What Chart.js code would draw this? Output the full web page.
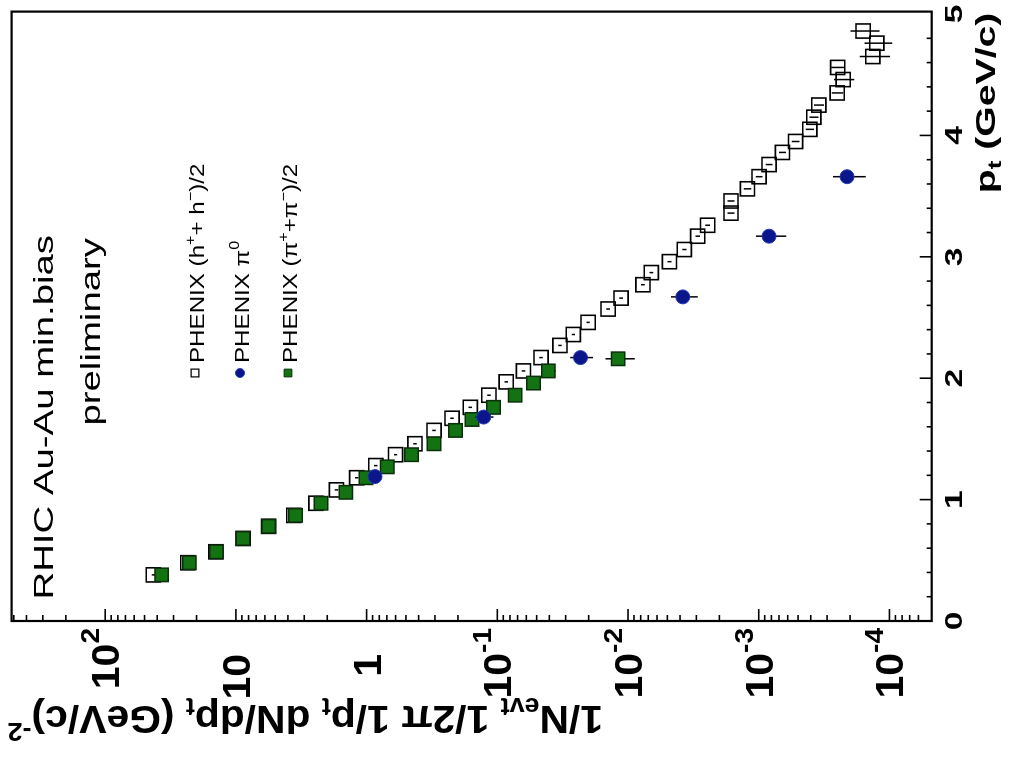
<!DOCTYPE html>
<html>
<head>
<meta charset="utf-8">
<script src="https://cdn.jsdelivr.net/npm/chart.js@4.4.1/dist/chart.umd.min.js"></script>
<style>
  html, body { margin: 0; padding: 0; background: #fff; overflow: hidden; width: 1029px; height: 772px; }
  /* the spectrum is drawn in portrait and turned a quarter turn so pt runs up the right edge */
  #wrap { position: absolute; left: 0; top: 0; width: 772px; height: 1029px;
          transform-origin: 0 0; transform: translate(0, 772px) rotate(-90deg); background: #fff; }
  canvas { display: block; }
</style>
</head>
<body>
<div id="wrap"><canvas id="spectrum" width="772" height="1029"></canvas></div>
<script>
// ---- data ---------------------------------------------------------------
const seriesNames = ['PHENIX (h+ + h-)/2', 'PHENIX pi0', 'PHENIX (pi+ + pi-)/2'];

// charged hadrons (h+ + h-)/2
const hadronPt = [0.38, 0.48, 0.57, 0.68, 0.78, 0.87, 0.97, 1.08, 1.18, 1.28,
                  1.37, 1.46, 1.57, 1.67, 1.76, 1.86, 1.97, 2.06, 2.17, 2.27,
                  2.36, 2.46, 2.57, 2.66, 2.77, 2.87, 2.96, 3.06, 3.17, 3.26,
                  3.36, 3.46, 3.56, 3.66, 3.76, 3.86, 3.95, 4.05, 4.15, 4.25,
                  4.35, 4.46, 4.56, 4.65, 4.76, 4.86];
const hadronYield = [42.8, 23.3, 14.2, 8.82, 5.62, 3.60, 2.44, 1.70, 1.19, 0.851,
                     0.600, 0.427, 0.305, 0.222, 0.161, 0.116, 0.0855, 0.0631, 0.0463, 0.0332,
                     0.0262, 0.0202, 0.0142, 0.0113, 0.00769, 0.00664, 0.00482, 0.00371, 0.00293, 0.00246,
                     0.00163, 0.00163, 0.00122, 0.000995, 0.000834, 0.000659, 0.000523, 0.000407, 0.000379, 0.000347,
                     0.000251, 0.000226, 0.000249, 0.000134, 0.000125, 0.000159];
const hadronErr = [1.3, 0.7, 0.43, 0.26, 0.17, 0.11, 0.073, 0.051, 0.036, 0.026,
                   0.018, 0.013, 0.0092, 0.0067, 0.0048, 0.0035, 0.0026, 0.0019, 0.0014, 0.0010,
                   0.0008, 0.0006, 0.00045, 0.00036, 0.00025, 0.00022, 0.00017, 0.00014, 0.00012, 0.0001,
                   0.0001, 0.0001, 0.00008, 0.00006, 0.00005, 0.00004, 0.000035, 0.00003, 0.00003, 0.00003,
                   0.000025, 0.00004, 0.00003, 0.000035, 0.00003, 0.00004];

// neutral pions
const pi0Pt = [1.19, 1.68, 2.17, 2.67, 3.17, 3.66];
const pi0Yield = [0.863, 0.127, 0.0231, 0.00381, 0.000834, 0.000211];
const pi0Err = [0.06, 0.02, 0.0046, 0.00088, 0.000217, 0.000059];

// charged pions (pi+ + pi-)/2
const pionPt = [0.38, 0.48, 0.57, 0.68, 0.78, 0.87, 0.97, 1.06, 1.18, 1.27,
                1.37, 1.46, 1.57, 1.66, 1.76, 1.86, 1.96, 2.06, 2.16];
const pionYield = [37.0, 22.7, 14.1, 8.82, 5.62, 3.50, 2.23, 1.44, 1.01, 0.694,
                   0.453, 0.305, 0.209, 0.156, 0.107, 0.0731, 0.0529, 0.0407, 0.0119];
const pionErr = [0.7, 0.45, 0.28, 0.18, 0.11, 0.07, 0.045, 0.03, 0.02, 0.014,
                 0.009, 0.006, 0.0042, 0.0031, 0.0021, 0.0015, 0.0011, 0.005, 0.003];

// axis labels
const ptTickValues = [0, 1, 2, 3, 4, 5];
const ptTickLabels = ['0', '1', '2', '3', '4', '5'];
const yieldTickValues = [1e2, 1e1, 1, 1e-1, 1e-2, 1e-3, 1e-4];
const yieldTickBases = ['10', '10', '1', '10', '10', '10', '10'];
const yieldTickExps = ['2', '', '', '-1', '-2', '-3', '-4'];

// ---- drawing helpers ---------------------------------------------------
const FAMILY = '"Liberation Sans", Arial, Helvetica, sans-serif';
const fontStr = (size, bold) => (bold ? 'bold ' : '') + size + 'px ' + FAMILY;

// text made of runs with their own size and baseline shift (sub/superscripts)
function richText(ctx, parts, x, y, o) {
  ctx.save();
  ctx.translate(x, y);
  if (o.rotate) ctx.rotate(o.rotate);
  ctx.scale(o.stretch || 1, 1);
  ctx.textBaseline = 'alphabetic';
  ctx.textAlign = 'left';
  ctx.fillStyle = '#000';
  const ws = parts.map(p => { ctx.font = fontStr(p.s, o.bold); return ctx.measureText(p.t).width; });
  const total = ws.reduce((a, b) => a + b, 0) + (o.trail || 0);
  let cx = o.align === 'right' ? -total : (o.align === 'center' ? -total / 2 : 0);
  parts.forEach((p, i) => {
    ctx.font = fontStr(p.s, o.bold);
    ctx.fillText(p.t, cx, p.dy || 0);
    cx += ws[i];
  });
  ctx.restore();
}

const legendRows = [
  [{t: 'PHENIX (h', s: 21}, {t: '+', s: 14, dy: -9}, {t: '+ h', s: 21}, {t: '\u2212', s: 14, dy: -9}, {t: ')/2', s: 21}],
  [{t: 'PHENIX \u03C0', s: 21}, {t: '0', s: 14, dy: -10}],
  [{t: 'PHENIX (\u03C0', s: 21}, {t: '+', s: 14, dy: -9}, {t: '+\u03C0', s: 21}, {t: '\u2212', s: 14, dy: -9}, {t: ')/2', s: 21}]
];
const legendBaselines = [204, 249, 297];

const yTitle = [{t: '1/N', s: 38}, {t: 'evt', s: 25, dy: 8}, {t: ' 1/2\u03C0 1/p', s: 38}, {t: 't', s: 25, dy: 8},
                {t: ' dN/dp', s: 38}, {t: 't', s: 25, dy: 8}, {t: ' (GeV/c)', s: 38}, {t: '-2', s: 25, dy: -17}];
const xTitle = [{t: 'p', s: 27}, {t: 't', s: 18, dy: 6}, {t: ' (GeV/c)', s: 27}];

const frameAndText = {
  id: 'frameAndText',
  beforeDatasetDraw(chart, args) {
    const ds = chart.data.datasets[args.index];
    if (!ds.errors) return;
    const {ctx, scales: {x, y}} = chart;
    ctx.save();
    ctx.beginPath();
    ctx.rect(chart.chartArea.left, chart.chartArea.top, chart.chartArea.width, chart.chartArea.height);
    ctx.clip();
    ctx.strokeStyle = '#000';
    ctx.lineWidth = 1.5;
    ds.data.forEach((p, i) => {
      const e = ds.errors[i];
      const px = x.getPixelForValue(p.x);
      ctx.beginPath();
      ctx.moveTo(px, y.getPixelForValue(p.y + e));
      ctx.lineTo(px, y.getPixelForValue(Math.max(p.y - e, y.min)));
      ctx.stroke();
    });
    ctx.restore();
  },
  afterDraw(chart) {
    const {ctx, chartArea: a, scales: {x, y}} = chart;
    ctx.save();
    ctx.strokeStyle = '#000';
    // ticks pointing into the frame
    ctx.lineWidth = 1.6;
    x.ticks.forEach(t => {
      const v = t.value;
      if (Math.abs(v * 5 - Math.round(v * 5)) > 1e-6) return;
      const major = Math.abs(v - Math.round(v)) < 1e-6;
      const px = x.getPixelForValue(v);
      ctx.beginPath(); ctx.moveTo(px, a.bottom); ctx.lineTo(px, a.bottom - (major ? 12 : 5)); ctx.stroke();
    });
    y.ticks.forEach(t => {
      const v = t.value;
      const e = Math.floor(Math.log10(v) + 1e-9);
      const sig = v / Math.pow(10, e);
      if (Math.abs(sig - Math.round(sig)) > 1e-6) return;
      const major = Math.round(sig) === 1;
      const py = y.getPixelForValue(v);
      ctx.beginPath(); ctx.moveTo(a.left, py); ctx.lineTo(a.left + (major ? 12 : 6), py); ctx.stroke();
    });
    // frame
    ctx.lineWidth = 2.2;
    ctx.strokeRect(a.left, a.top, a.right - a.left, a.bottom - a.top);
    ctx.restore();

    // pt tick labels
    ptTickValues.forEach((v, i) => {
      richText(ctx, [{t: ptTickLabels[i], s: 24}], x.getPixelForValue(v), a.bottom + 30, {align: 'center', bold: true, stretch: 1.4});
    });
    // yield tick labels (powers of ten)
    yieldTickValues.forEach((v, i) => {
      const parts = [{t: yieldTickBases[i], s: 38}];
      if (yieldTickExps[i]) parts.push({t: yieldTickExps[i], s: 26, dy: -20});
      richText(ctx, parts, a.left - 7, y.getPixelForValue(v) + 14,
               {align: 'right', bold: true, stretch: 1.08, trail: yieldTickExps[i] ? 0 : 24});
    });
    // axis titles
    richText(ctx, xTitle, a.right - 1, a.bottom + 63, {align: 'right', bold: true, stretch: 1.45});
    richText(ctx, yTitle, 66, a.top - 4, {align: 'right', bold: true, stretch: 1.075, rotate: -Math.PI / 2});

    // annotation
    richText(ctx, [{t: 'RHIC Au-Au min.bias', s: 28}], 537, 53, {align: 'right', stretch: 1.37});
    richText(ctx, [{t: 'preliminary', s: 28}], 534, 100, {align: 'right', stretch: 1.37});

    // legend
    chart.data.datasets.forEach((ds, i) => {
      const by = legendBaselines[i];
      ctx.save();
      ctx.fillStyle = ds.pointBackgroundColor;
      ctx.strokeStyle = ds.pointBorderColor;
      ctx.lineWidth = ds.legendBorder;
      Chart.helpers.drawPoint(ctx, {pointStyle: ds.pointStyle, radius: ds.legendRadius, borderWidth: ds.legendBorder, rotation: 0}, 399, by - 9);
      ctx.restore();
      richText(ctx, legendRows[i], 409, by, {align: 'left', stretch: 1.15});
    });
  }
};

const toPoints = (xs, ys) => xs.map((v, i) => ({x: v, y: ys[i]}));

new Chart(document.getElementById('spectrum'), {
  type: 'scatter',
  data: {
    datasets: [
      {label: seriesNames[0], data: toPoints(hadronPt, hadronYield), errors: hadronErr,
       pointStyle: 'rect', pointRadius: 10, pointBorderWidth: 1.6,
       pointBorderColor: '#000', pointBackgroundColor: 'rgba(255,255,255,0)',
       legendRadius: 5.5, legendBorder: 1.2, order: 3},
      {label: seriesNames[1], data: toPoints(pi0Pt, pi0Yield), errors: pi0Err,
       pointStyle: 'circle', pointRadius: 7, pointBorderWidth: 1,
       pointBorderColor: '#2336b8', pointBackgroundColor: '#0a168a',
       legendRadius: 4.5, legendBorder: 1, order: 1},
      {label: seriesNames[2], data: toPoints(pionPt, pionYield), errors: pionErr,
       pointStyle: 'rect', pointRadius: 9.5, pointBorderWidth: 1.5,
       pointBorderColor: '#0b2e0b', pointBackgroundColor: '#137313',
       legendRadius: 5.5, legendBorder: 1, order: 2}
    ]
  },
  options: {
    responsive: false,
    animation: false,
    devicePixelRatio: 1,
    layout: {padding: {top: 7.5, right: 6, left: 0, bottom: 0}},
    plugins: {legend: {display: false}, tooltip: {enabled: false}},
    scales: {
      x: {type: 'linear', position: 'bottom', min: 0, max: 5.02,
          ticks: {display: false, stepSize: 0.2}, grid: {display: false}, border: {display: false},
          afterFit: s => { s.height = 97.3; }},
      y: {type: 'logarithmic', position: 'left', min: 4.75e-5, max: 520,
          ticks: {display: false}, grid: {display: false}, border: {display: false},
          afterFit: s => { s.width = 151; }}
    }
  },
  plugins: [frameAndText]
});
</script>
</body>
</html>
